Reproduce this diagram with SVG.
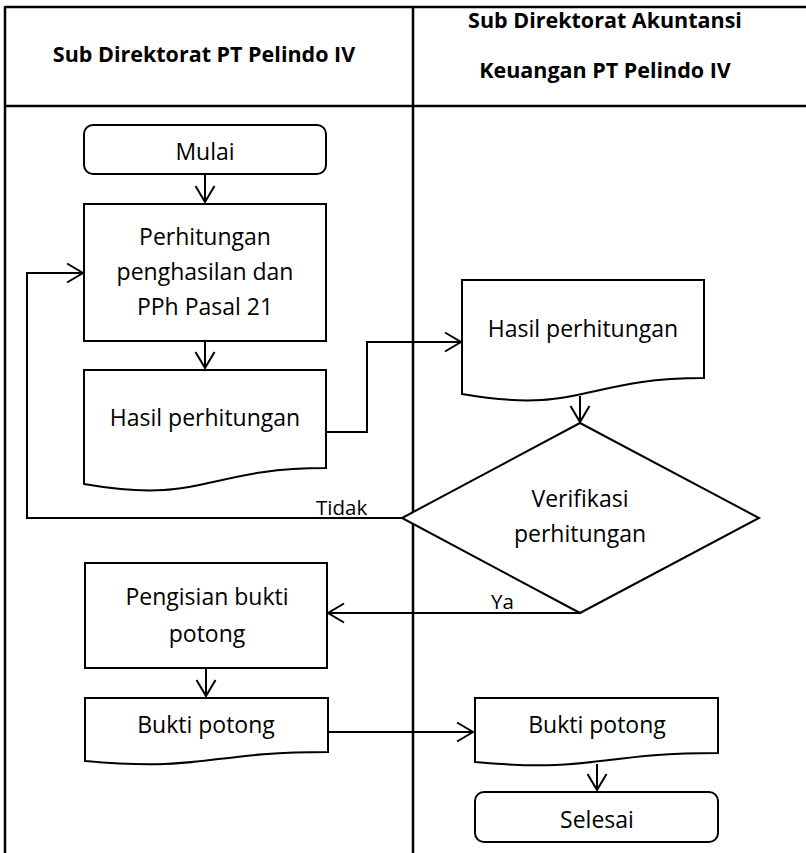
<svg xmlns="http://www.w3.org/2000/svg" width="806" height="853" viewBox="0 0 806 853">
<style>
  .frame{stroke:#000;stroke-width:2.5;fill:none}
  .shape{stroke:#000;stroke-width:2;fill:#fff}
  .conn{stroke:#000;stroke-width:2;fill:none}
  .t{font-family:"Open Sans","Noto Sans",sans-serif;font-size:23px;fill:#000;text-anchor:middle}
  .h{font-family:"Open Sans","Noto Sans",sans-serif;font-size:21.5px;font-weight:bold;fill:#000;text-anchor:middle}
  .lbl{font-family:"Open Sans","Noto Sans",sans-serif;font-size:20.5px;fill:#000}
</style>
<defs>
  <marker id="arr" markerUnits="userSpaceOnUse" markerWidth="24" markerHeight="24" viewBox="-20 -12 24 24" refX="0" refY="0" orient="auto">
    <path d="M-16,-9.5 L0,0 L-16,9.5" fill="none" stroke="#000" stroke-width="2"/>
  </marker>
</defs>
<rect width="806" height="853" fill="#fff"/>
<g id="table">
  <line class="frame" x1="5" y1="7" x2="806" y2="7"/>
  <line class="frame" x1="5" y1="106" x2="806" y2="106"/>
  <line class="frame" x1="5" y1="6" x2="5" y2="853"/>
  <line class="frame" x1="413" y1="6" x2="413" y2="853"/>
  <text class="h" x="204" y="62">Sub Direktorat PT Pelindo IV</text>
  <text class="h" x="605" y="28">Sub Direktorat Akuntansi</text>
  <text class="h" x="605" y="78">Keuangan PT Pelindo IV</text>
</g>
<g id="connectors">
  <path class="conn" d="M205,174 V202" marker-end="url(#arr)"/>
  <path class="conn" d="M205,341 V368" marker-end="url(#arr)"/>
  <path class="conn" d="M326,432 H367 V342 H461" marker-end="url(#arr)"/>
  <path class="conn" d="M580,396 V422" marker-end="url(#arr)"/>
  <path class="conn" d="M402,518 H27 V273 H83" marker-end="url(#arr)"/>
  <path class="conn" d="M580,613 H328" marker-end="url(#arr)"/>
  <path class="conn" d="M206,668 V696" marker-end="url(#arr)"/>
  <path class="conn" d="M328,732 H473" marker-end="url(#arr)"/>
  <path class="conn" d="M597,764 V790" marker-end="url(#arr)"/>
  <text class="lbl" x="316" y="515">Tidak</text>
  <text class="lbl" x="491" y="609">Ya</text>
</g>
<g id="mulai">
  <rect class="shape" x="84" y="125" width="242" height="49" rx="9"/>
  <text class="t" x="205" y="160">Mulai</text>
</g>
<g id="perhitungan">
  <rect class="shape" x="84" y="204" width="242" height="137"/>
  <text class="t" x="205" y="245">Perhitungan</text>
  <text class="t" x="205" y="280">penghasilan dan</text>
  <text class="t" x="205" y="315">PPh Pasal 21</text>
</g>
<g id="hasil-kiri">
  <path class="shape" d="M84,370 H326 V468 C205,468 205,505 84,484 Z"/>
  <text class="t" x="205" y="426">Hasil perhitungan</text>
</g>
<g id="hasil-kanan">
  <path class="shape" d="M462,280 H704 V378 C583,378 583,415 462,394 Z"/>
  <text class="t" x="583" y="337">Hasil perhitungan</text>
</g>
<g id="verifikasi">
  <polygon class="shape" points="580,423 759,518 580,613 402,518"/>
  <text class="t" x="580" y="507">Verifikasi</text>
  <text class="t" x="580" y="542">perhitungan</text>
</g>
<g id="pengisian">
  <rect class="shape" x="85" y="563" width="242" height="105"/>
  <text class="t" x="207" y="605">Pengisian bukti</text>
  <text class="t" x="207" y="642">potong</text>
</g>
<g id="bukti-kiri">
  <path class="shape" d="M85,698 H328 V752 C206,752 206,772 85,761 Z"/>
  <text class="t" x="206" y="733">Bukti potong</text>
</g>
<g id="bukti-kanan">
  <path class="shape" d="M475,698 H718 V753 C597,753 597,773 475,762 Z"/>
  <text class="t" x="597" y="733">Bukti potong</text>
</g>
<g id="selesai">
  <rect class="shape" x="475" y="792" width="243" height="50" rx="9"/>
  <text class="t" x="597" y="828">Selesai</text>
</g>
</svg>
